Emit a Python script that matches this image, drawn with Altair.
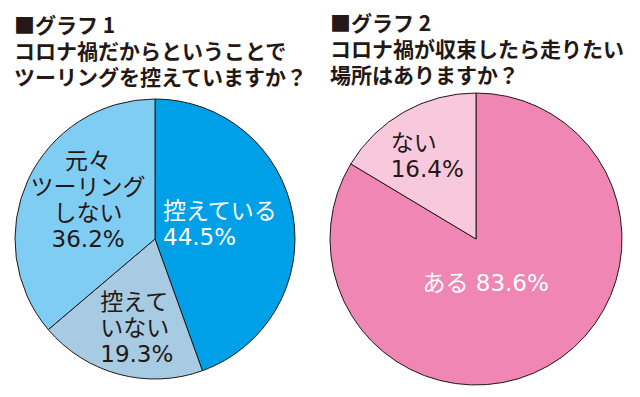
import math
import altair as alt
import pandas as pd

# ---- data ----
q1_title = ["■グラフ 1", "コロナ禍だからということで", "ツーリングを控えていますか？"]
q1_categories = ["控えている", "控えていない", "元々ツーリングしない"]
q1_label_lines = [["控えている"], ["控えて", "いない"], ["元々", "ツーリング", "しない"]]
q1_values = [44.5, 19.3, 36.2]

q2_title = ["■グラフ 2", "コロナ禍が収束したら走りたい", "場所はありますか？"]
q2_categories = ["ある", "ない"]
q2_label_lines = [["ある"], ["ない"]]
q2_values = [83.6, 16.4]

# ---- styles ----
q1_colors = ["#00a0e9", "#a6cbe2", "#80cdf4"]
q2_colors = ["#ef86b3", "#f8c8dd"]
ink = "#231815"
label_font = "DejaVu Sans, Noto Sans CJK JP"
title_font = "Noto Sans CJK JP"
line_h = 26

# placement for each label: radius from centre, dx, dy, text colour, align, line join
q1_place = [
    dict(radius=67, dx=-58, dy=-2, color="white", align="left", sep="\n"),
    dict(radius=92, dx=-31, dy=1, color=ink, align="left", sep="\n"),
    dict(radius=77, dx=3, dy=-6, color=ink, align="center", sep="\n"),
]
q2_place = [
    dict(radius=46, dx=-13, dy=5, color="white", align="center", sep=" "),
    dict(radius=96, dx=-38, dy=2, color=ink, align="left", sep="\n"),
]


def make_frame(categories, lines, values, place):
    labels = [p["sep"].join(l + [f"{v}%"]) for l, v, p in zip(lines, values, place)]
    return pd.DataFrame({
        "idx": list(range(len(categories))),
        "category": categories,
        "value": values,
        "label": labels,
    })


theta_scale = alt.Scale(domain=[0, 1], range=[0, 2 * math.pi])


def pie(categories, lines, values, colors, place, title, radius, width, height, title_dx):
    df = make_frame(categories, lines, values, place)
    arcs = alt.Chart().mark_arc(radius=radius, stroke=ink, strokeWidth=1).encode(
        theta=alt.Theta("start:Q", scale=theta_scale),
        theta2="end:Q",
        color=alt.Color("category:N", scale=alt.Scale(domain=categories, range=colors), legend=None),
    )
    texts = []
    for cat, p, label in zip(categories, place, df["label"]):
        n_lines = label.count("\n") + 1
        t = alt.Chart().transform_filter(alt.datum.category == cat).mark_text(
            radius=p["radius"], dx=p["dx"], dy=p["dy"] - (n_lines - 1) * line_h / 2,
            color=p["color"], align=p["align"],
            baseline="middle", lineBreak="\n", lineHeight=line_h, fontSize=23, font=label_font,
        ).encode(
            theta=alt.Theta("mid:Q", scale=theta_scale),
            text="label:N",
        )
        texts.append(t)
    return alt.layer(arcs, *texts, data=df).transform_joinaggregate(
        total="sum(value)"
    ).transform_window(
        cum="sum(value)", sort=[alt.SortField("idx")], frame=[None, 0]
    ).transform_calculate(
        start="(datum.cum - datum.value) / datum.total",
        end="datum.cum / datum.total",
        mid="(datum.cum - datum.value / 2) / datum.total",
    ).properties(
        width=width, height=height,
        title=alt.TitleParams(
            text=title, anchor="start", fontSize=21, font=title_font, fontWeight="bold",
            lineHeight=26, dx=title_dx, offset=4, color=ink,
        ),
    )


p1 = pie(q1_categories, q1_label_lines, q1_values, q1_colors, q1_place, q1_title, 140, 294, 292, 6)
p2 = pie(q2_categories, q2_label_lines, q2_values, q2_colors, q2_place, q2_title, 146, 308, 292, 8)

chart = alt.hconcat(p1, p2, spacing=20, bounds="flush").resolve_scale(
    color="independent"
).properties(
    padding={"top": 6, "left": 0, "right": 0, "bottom": 0}, background="white"
).configure_view(stroke=None)

chart.save("out.html", embed_options={"renderer": "svg", "actions": False})
